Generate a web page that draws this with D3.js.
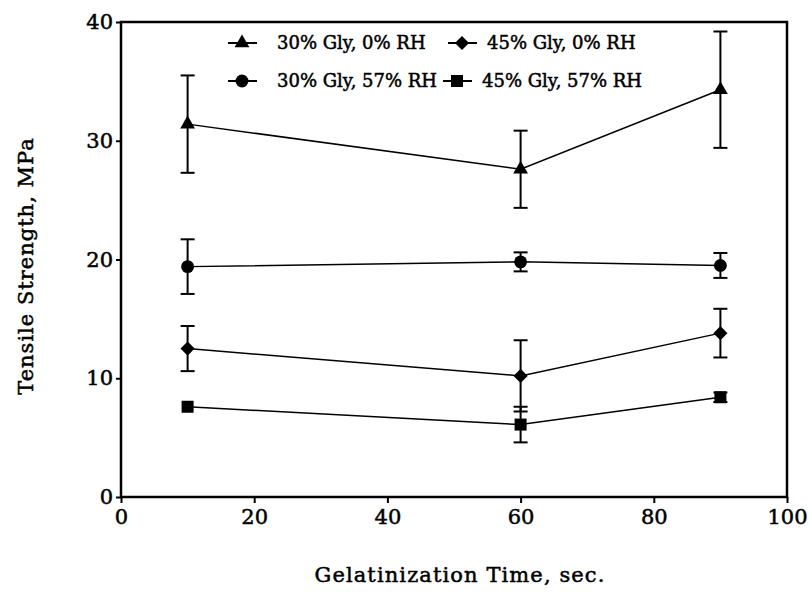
<!DOCTYPE html>
<html>
<head>
<meta charset="utf-8">
<script src="https://cdn.jsdelivr.net/npm/d3@7"></script>
<style>
  body { margin: 0; background: #fff; }
  svg text { font-family: "DejaVu Serif", "Liberation Serif", serif; fill: #000; stroke: #000; stroke-width: 0.5px; }
</style>
</head>
<body>
<svg id="chart" width="809" height="594"></svg>
<script>
// gelatinization time (sec)
const times = [10, 60, 90];

// tensile strength, MPa (mean and +/- error) per series
const tri_vals  = [31.4, 27.6, 34.3];
const tri_err   = [4.1, 3.25, 4.9];
const circ_vals = [19.4, 19.8, 19.5];
const circ_err  = [2.3, 0.8, 1.05];
const diam_vals = [12.5, 10.2, 13.8];
const diam_err  = [1.9, 3.0, 2.05];
const sq_vals   = [7.6, 6.1, 8.4];
const sq_err    = [0, 1.5, 0.4];

const series_names = ["30% Gly, 0% RH", "45% Gly, 0% RH", "30% Gly, 57% RH", "45% Gly, 57% RH"];
const xTicks = [0, 20, 40, 60, 80, 100];
const yTicks = [0, 10, 20, 30, 40];

const svg = d3.select("#chart");
const margin = {left: 121, right: 22, top: 22, bottom: 97};
const W = 809, H = 594;

const x = d3.scaleLinear().domain([0, 100]).range([margin.left, W - margin.right]);
const y = d3.scaleLinear().domain([0, 40]).range([H - margin.bottom, margin.top]);

// axes
const xAxis = svg.append("g")
  .attr("transform", `translate(0,${y(0)})`)
  .call(d3.axisBottom(x).tickValues(xTicks).tickSize(6).tickPadding(6));
const yAxis = svg.append("g")
  .attr("transform", `translate(${x(0)},0)`)
  .call(d3.axisLeft(y).tickValues(yTicks).tickSize(5).tickPadding(3));

[xAxis, yAxis].forEach(a => {
  a.select(".domain").remove();
  a.selectAll("line").attr("stroke", "#000").attr("stroke-width", 2);
  a.selectAll("text").style("font-size", "21px").attr("font-family", null);
});

// frame
svg.append("rect")
  .attr("x", x(0)).attr("y", y(40))
  .attr("width", x(100) - x(0)).attr("height", y(0) - y(40))
  .attr("fill", "none").attr("stroke", "#000").attr("stroke-width", 2.5);

// symbols (diamond is a square turned 45 degrees)
const symTypes = [d3.symbolTriangle, d3.symbolSquare, d3.symbolCircle, d3.symbolSquare];
const symSizes = [95, 100, 130, 144];
const symRot = [0, 45, 0, 0];

const data = [
  {vals: tri_vals, err: tri_err, sym: 0},
  {vals: diam_vals, err: diam_err, sym: 1},
  {vals: circ_vals, err: circ_err, sym: 2},
  {vals: sq_vals, err: sq_err, sym: 3}
];

const line = d3.line().x(d => x(d[0])).y(d => y(d[1]));

data.forEach(s => {
  const pts = times.map((t, i) => [t, s.vals[i], s.err[i]]);
  const g = svg.append("g");

  // error bars
  pts.filter(p => p[2] > 0).forEach(p => {
    g.append("line")
      .attr("x1", x(p[0])).attr("x2", x(p[0]))
      .attr("y1", y(p[1] + p[2])).attr("y2", y(p[1] - p[2]))
      .attr("stroke", "#000").attr("stroke-width", 2);
    [p[1] + p[2], p[1] - p[2]].forEach(v => {
      g.append("line")
        .attr("x1", x(p[0]) - 7).attr("x2", x(p[0]) + 7)
        .attr("y1", y(v)).attr("y2", y(v))
        .attr("stroke", "#000").attr("stroke-width", 2);
    });
  });

  g.append("path").datum(pts)
    .attr("d", line)
    .attr("fill", "none").attr("stroke", "#000").attr("stroke-width", 1.5);

  g.selectAll("path.pt").data(pts).join("path")
    .attr("class", "pt")
    .attr("transform", d => `translate(${x(d[0])},${y(d[1])}) rotate(${symRot[s.sym]})`)
    .attr("d", d3.symbol().type(symTypes[s.sym]).size(symSizes[s.sym]))
    .attr("fill", "#000");
});

// legend
const legPos = [
  {lx: 228, tx: 277, cy: 43},
  {lx: 448, tx: 487, cy: 43},
  {lx: 228, tx: 277, cy: 81},
  {lx: 443, tx: 482, cy: 81}
];
series_names.forEach((name, i) => {
  const p = legPos[i];
  svg.append("line")
    .attr("x1", p.lx).attr("x2", p.lx + 29)
    .attr("y1", p.cy).attr("y2", p.cy)
    .attr("stroke", "#000").attr("stroke-width", 2);
  svg.append("path")
    .attr("transform", `translate(${p.lx + 14},${p.cy}) rotate(${symRot[i]})`)
    .attr("d", d3.symbol().type(symTypes[i]).size(symSizes[i]))
    .attr("fill", "#000");
  svg.append("text")
    .attr("x", p.tx).attr("y", p.cy)
    .attr("dy", "0.35em")
    .style("font-size", "18px")
    .text(name);
});

// axis titles
svg.append("text")
  .attr("x", 460).attr("y", 582)
  .attr("text-anchor", "middle")
  .style("font-size", "21px")
  .style("letter-spacing", "1.1px")
  .text("Gelatinization Time, sec.");

svg.append("text")
  .attr("transform", `translate(33,266) rotate(-90)`)
  .attr("text-anchor", "middle")
  .style("font-size", "21px")
  .style("letter-spacing", "1px")
  .text("Tensile Strength, MPa");
</script>
</body>
</html>
